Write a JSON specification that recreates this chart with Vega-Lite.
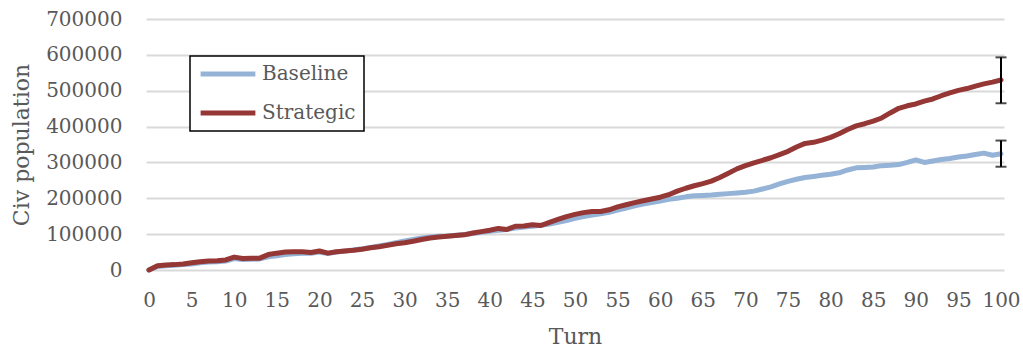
{
  "$schema": "https://vega.github.io/schema/vega-lite/v6.json",
  "autosize": {"type": "none"},
  "padding": {"left": 146, "top": 19, "right": 19, "bottom": 81},
  "width": 858,
  "height": 251,
  "background": "white",
  "config": {
    "view": {"stroke": null},
    "font": "DejaVu Serif",
    "axis": {
      "labelFont": "DejaVu Serif",
      "titleFont": "DejaVu Serif",
      "labelColor": "#595959",
      "titleColor": "#595959",
      "labelFontSize": 20,
      "titleFontSize": 22,
      "titleFontWeight": "normal",
      "gridColor": "#d9d9d9",
      "gridWidth": 2,
      "labelOverlap": false
    },
    "legend": {
      "labelFont": "DejaVu Serif",
      "labelFontSize": 20,
      "labelColor": "#595959"
    }
  },
  "datasets": {
    "pop": [
      {"turn":0,"Baseline":0,"Strategic":0},
      {"turn":1,"Baseline":10000,"Strategic":12000},
      {"turn":2,"Baseline":12000,"Strategic":14000},
      {"turn":3,"Baseline":13000,"Strategic":15000},
      {"turn":4,"Baseline":15000,"Strategic":17000},
      {"turn":5,"Baseline":17000,"Strategic":20000},
      {"turn":6,"Baseline":20000,"Strategic":23000},
      {"turn":7,"Baseline":22000,"Strategic":25000},
      {"turn":8,"Baseline":23000,"Strategic":26000},
      {"turn":9,"Baseline":25000,"Strategic":28000},
      {"turn":10,"Baseline":32000,"Strategic":36000},
      {"turn":11,"Baseline":29000,"Strategic":32000},
      {"turn":12,"Baseline":30000,"Strategic":33000},
      {"turn":13,"Baseline":31000,"Strategic":33000},
      {"turn":14,"Baseline":37000,"Strategic":43000},
      {"turn":15,"Baseline":40000,"Strategic":47000},
      {"turn":16,"Baseline":43000,"Strategic":50000},
      {"turn":17,"Baseline":45000,"Strategic":51000},
      {"turn":18,"Baseline":47000,"Strategic":51000},
      {"turn":19,"Baseline":47000,"Strategic":49000},
      {"turn":20,"Baseline":50000,"Strategic":53000},
      {"turn":21,"Baseline":46000,"Strategic":47000},
      {"turn":22,"Baseline":50000,"Strategic":51000},
      {"turn":23,"Baseline":53000,"Strategic":53000},
      {"turn":24,"Baseline":56000,"Strategic":55000},
      {"turn":25,"Baseline":59000,"Strategic":58000},
      {"turn":26,"Baseline":63000,"Strategic":62000},
      {"turn":27,"Baseline":67000,"Strategic":65000},
      {"turn":28,"Baseline":71000,"Strategic":69000},
      {"turn":29,"Baseline":76000,"Strategic":73000},
      {"turn":30,"Baseline":81000,"Strategic":76000},
      {"turn":31,"Baseline":85000,"Strategic":80000},
      {"turn":32,"Baseline":89000,"Strategic":85000},
      {"turn":33,"Baseline":92000,"Strategic":89000},
      {"turn":34,"Baseline":94000,"Strategic":92000},
      {"turn":35,"Baseline":95000,"Strategic":94000},
      {"turn":36,"Baseline":97000,"Strategic":96000},
      {"turn":37,"Baseline":99000,"Strategic":98000},
      {"turn":38,"Baseline":102000,"Strategic":103000},
      {"turn":39,"Baseline":105000,"Strategic":107000},
      {"turn":40,"Baseline":108000,"Strategic":111000},
      {"turn":41,"Baseline":111000,"Strategic":116000},
      {"turn":42,"Baseline":113000,"Strategic":113000},
      {"turn":43,"Baseline":117000,"Strategic":122000},
      {"turn":44,"Baseline":120000,"Strategic":123000},
      {"turn":45,"Baseline":122000,"Strategic":126000},
      {"turn":46,"Baseline":125000,"Strategic":124000},
      {"turn":47,"Baseline":128000,"Strategic":133000},
      {"turn":48,"Baseline":133000,"Strategic":141000},
      {"turn":49,"Baseline":138000,"Strategic":149000},
      {"turn":50,"Baseline":144000,"Strategic":155000},
      {"turn":51,"Baseline":149000,"Strategic":160000},
      {"turn":52,"Baseline":153000,"Strategic":163000},
      {"turn":53,"Baseline":157000,"Strategic":163000},
      {"turn":54,"Baseline":161000,"Strategic":168000},
      {"turn":55,"Baseline":167000,"Strategic":176000},
      {"turn":56,"Baseline":173000,"Strategic":182000},
      {"turn":57,"Baseline":179000,"Strategic":188000},
      {"turn":58,"Baseline":184000,"Strategic":193000},
      {"turn":59,"Baseline":188000,"Strategic":198000},
      {"turn":60,"Baseline":192000,"Strategic":203000},
      {"turn":61,"Baseline":197000,"Strategic":210000},
      {"turn":62,"Baseline":200000,"Strategic":220000},
      {"turn":63,"Baseline":204000,"Strategic":228000},
      {"turn":64,"Baseline":207000,"Strategic":235000},
      {"turn":65,"Baseline":208000,"Strategic":241000},
      {"turn":66,"Baseline":209000,"Strategic":248000},
      {"turn":67,"Baseline":211000,"Strategic":258000},
      {"turn":68,"Baseline":213000,"Strategic":270000},
      {"turn":69,"Baseline":215000,"Strategic":282000},
      {"turn":70,"Baseline":217000,"Strategic":291000},
      {"turn":71,"Baseline":220000,"Strategic":299000},
      {"turn":72,"Baseline":226000,"Strategic":306000},
      {"turn":73,"Baseline":232000,"Strategic":313000},
      {"turn":74,"Baseline":240000,"Strategic":322000},
      {"turn":75,"Baseline":247000,"Strategic":331000},
      {"turn":76,"Baseline":253000,"Strategic":343000},
      {"turn":77,"Baseline":258000,"Strategic":353000},
      {"turn":78,"Baseline":261000,"Strategic":356000},
      {"turn":79,"Baseline":264000,"Strategic":362000},
      {"turn":80,"Baseline":267000,"Strategic":370000},
      {"turn":81,"Baseline":271000,"Strategic":380000},
      {"turn":82,"Baseline":279000,"Strategic":392000},
      {"turn":83,"Baseline":285000,"Strategic":402000},
      {"turn":84,"Baseline":286000,"Strategic":408000},
      {"turn":85,"Baseline":287000,"Strategic":415000},
      {"turn":86,"Baseline":291000,"Strategic":424000},
      {"turn":87,"Baseline":292000,"Strategic":438000},
      {"turn":88,"Baseline":294000,"Strategic":451000},
      {"turn":89,"Baseline":300000,"Strategic":458000},
      {"turn":90,"Baseline":307000,"Strategic":463000},
      {"turn":91,"Baseline":300000,"Strategic":471000},
      {"turn":92,"Baseline":304000,"Strategic":477000},
      {"turn":93,"Baseline":308000,"Strategic":486000},
      {"turn":94,"Baseline":311000,"Strategic":494000},
      {"turn":95,"Baseline":315000,"Strategic":501000},
      {"turn":96,"Baseline":318000,"Strategic":506000},
      {"turn":97,"Baseline":322000,"Strategic":513000},
      {"turn":98,"Baseline":326000,"Strategic":519000},
      {"turn":99,"Baseline":320000,"Strategic":524000},
      {"turn":100,"Baseline":324000,"Strategic":530000}
    ],
    "err": [
      {"turn":100,"series":"Baseline","lo":288000,"hi":361000},
      {"turn":100,"series":"Strategic","lo":465000,"hi":593000}
    ]
  },
  "layer": [
    {
      "data": {"name": "pop"},
      "transform": [{"fold": ["Baseline", "Strategic"], "as": ["series", "pop"]}],
      "mark": {"type": "line", "strokeWidth": 5, "strokeCap": "round", "strokeJoin": "round"},
      "encoding": {
        "x": {
          "field": "turn", "type": "quantitative", "title": "Turn",
          "scale": {"domain": [0, 100], "nice": false, "zero": false, "padding": 3},
          "axis": {
            "values": [0,5,10,15,20,25,30,35,40,45,50,55,60,65,70,75,80,85,90,95,100],
            "grid": false, "domain": false, "ticks": false, "tickSize": 0,
            "labelPadding": 20, "titlePadding": 16, "labelOverlap": false
          }
        },
        "y": {
          "field": "pop", "type": "quantitative", "title": "Civ population",
          "scale": {"domain": [0, 700000], "nice": false},
          "axis": {
            "values": [0,100000,200000,300000,400000,500000,600000,700000],
            "format": "d",
            "domain": false, "ticks": false, "tickSize": 0,
            "labelPadding": 24, "titlePadding": 12, "labelOverlap": false
          }
        },
        "color": {
          "field": "series", "type": "nominal",
          "scale": {"domain": ["Baseline", "Strategic"], "range": ["#95B3D7", "#953735"]},
          "legend": {
            "title": null,
            "orient": "none",
            "legendX": 44,
            "legendY": 37,
            "strokeColor": "black",
            "fillColor": "white",
            "padding": 8,
            "symbolType": "stroke",
            "symbolStrokeWidth": 5,
            "symbolSize": 3000,
            "clipHeight": 20,
            "labelOffset": 4,
            "rowPadding": 19,
            "encode": {"legend": {"update": {"strokeWidth": {"value": 1.5}}}}
          }
        }
      }
    },
    {
      "data": {"name": "err"},
      "mark": {"type": "errorbar", "ticks": {"size": 11, "thickness": 2, "color": "black"}, "rule": {"strokeWidth": 2, "color": "black"}},
      "encoding": {
        "x": {
          "field": "turn", "type": "quantitative", "title": "Turn",
          "scale": {"domain": [0, 100], "nice": false, "zero": false, "padding": 3},
          "axis": {
            "values": [0,5,10,15,20,25,30,35,40,45,50,55,60,65,70,75,80,85,90,95,100],
            "grid": false, "domain": false, "ticks": false, "tickSize": 0,
            "labelPadding": 20, "titlePadding": 16, "labelOverlap": false
          }
        },
        "y": {
          "field": "lo", "type": "quantitative", "title": "Civ population",
          "scale": {"domain": [0, 700000], "nice": false},
          "axis": {
            "values": [0,100000,200000,300000,400000,500000,600000,700000],
            "format": "d",
            "domain": false, "ticks": false, "tickSize": 0,
            "labelPadding": 24, "titlePadding": 12, "labelOverlap": false
          }
        },
        "y2": {"field": "hi"}
      }
    }
  ]
}
